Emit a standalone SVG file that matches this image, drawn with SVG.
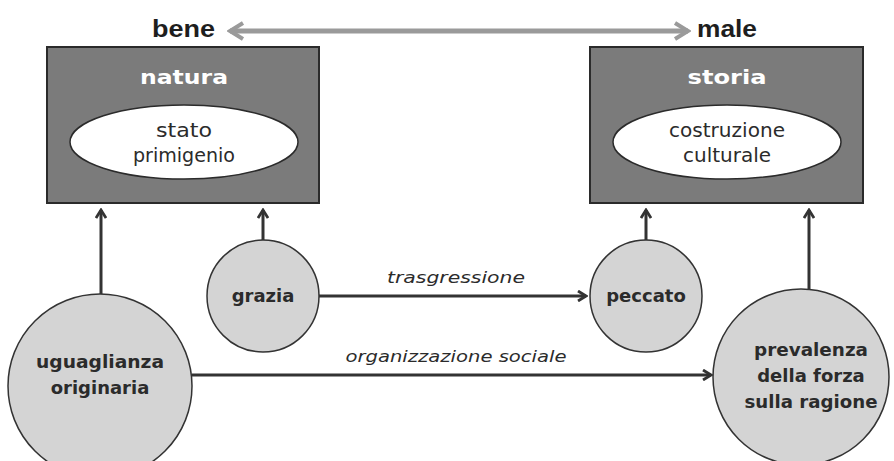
<svg xmlns="http://www.w3.org/2000/svg" width="894" height="461" viewBox="0 0 894 461">
<style>
.box{fill:#7b7b7b;stroke:#2b2b2b;stroke-width:2}
.ell{fill:#ffffff;stroke:#2b2b2b;stroke-width:1.5}
.circ{fill:#d4d4d4;stroke:#333;stroke-width:1.5}
.title{font-family:"DejaVu Sans",sans-serif;font-weight:bold;font-size:20px;fill:#ffffff;text-anchor:middle}
.inner{font-family:"DejaVu Sans",sans-serif;font-size:19px;fill:#2b2b2b;text-anchor:middle}
.node{font-family:"DejaVu Sans",sans-serif;font-weight:bold;font-size:18px;fill:#2b2b2b;text-anchor:middle}
.lab{font-family:"DejaVu Sans",sans-serif;font-style:italic;font-size:16px;fill:#2b2b2b;text-anchor:middle}
.top{font-family:"Liberation Sans",sans-serif;font-weight:bold;font-size:24px;fill:#1e1e1e}
.con{fill:none;stroke:#333;stroke-width:3}
.gray{fill:none;stroke:#9a9a9a;stroke-width:5}
</style>
<defs>
<marker id="ah" viewBox="0 0 12 12" refX="10" refY="6" markerWidth="12" markerHeight="12" markerUnits="userSpaceOnUse" orient="auto">
<path d="M2,1 L10,6 L2,11" fill="none" stroke="#333" stroke-width="2.8"/>
</marker>
<marker id="gh" viewBox="0 0 20 20" refX="17" refY="10" markerWidth="20" markerHeight="20" markerUnits="userSpaceOnUse" orient="auto-start-reverse">
<path d="M4,2 L17,10 L4,18" fill="none" stroke="#9a9a9a" stroke-width="4"/>
</marker>
</defs>
<g id="bene"><text class="top" x="152" y="37" textLength="63" lengthAdjust="spacingAndGlyphs">bene</text></g>
<g id="male"><text class="top" x="697" y="37" textLength="60" lengthAdjust="spacingAndGlyphs">male</text></g>
<g id="natura">
<rect class="box" x="47" y="47" width="272" height="156"/>
<text class="title" x="184" y="84" textLength="88" lengthAdjust="spacingAndGlyphs">natura</text>
<ellipse class="ell" cx="184" cy="142" rx="114" ry="37"/>
<text class="inner" x="184" y="137" textLength="56" lengthAdjust="spacingAndGlyphs">stato</text>
<text class="inner" x="184" y="162" textLength="102" lengthAdjust="spacingAndGlyphs">primigenio</text>
</g>
<g id="storia">
<rect class="box" x="590" y="47" width="273" height="156"/>
<text class="title" x="727" y="84" textLength="79" lengthAdjust="spacingAndGlyphs">storia</text>
<ellipse class="ell" cx="727" cy="142" rx="114" ry="37"/>
<text class="inner" x="727" y="137" textLength="116" lengthAdjust="spacingAndGlyphs">costruzione</text>
<text class="inner" x="727" y="162" textLength="88" lengthAdjust="spacingAndGlyphs">culturale</text>
</g>
<g id="grazia">
<circle class="circ" cx="263" cy="296" r="56"/>
<text class="node" x="263" y="302">grazia</text>
</g>
<g id="peccato">
<circle class="circ" cx="646" cy="296" r="56"/>
<text class="node" x="646" y="302">peccato</text>
</g>
<g id="uguaglianza">
<circle class="circ" cx="100" cy="386" r="92"/>
<text class="node" x="100" y="368" textLength="128" lengthAdjust="spacingAndGlyphs">uguaglianza</text>
<text class="node" x="100" y="394">originaria</text>
</g>
<g id="prevalenza">
<circle class="circ" cx="801" cy="377" r="88"/>
<text class="node" x="811" y="356" textLength="114" lengthAdjust="spacingAndGlyphs">prevalenza</text>
<text class="node" x="811" y="382">della forza</text>
<text class="node" x="811" y="408" textLength="133" lengthAdjust="spacingAndGlyphs">sulla ragione</text>
</g>
<g id="connectors">
<line class="gray" x1="230" y1="31" x2="688" y2="31" marker-start="url(#gh)" marker-end="url(#gh)"/>
<line class="con" x1="101" y1="294" x2="101" y2="210" marker-end="url(#ah)"/>
<line class="con" x1="263" y1="240" x2="263" y2="210" marker-end="url(#ah)"/>
<line class="con" x1="646" y1="240" x2="646" y2="210" marker-end="url(#ah)"/>
<line class="con" x1="809" y1="290" x2="809" y2="210" marker-end="url(#ah)"/>
<line class="con" x1="319" y1="296" x2="586" y2="296" marker-end="url(#ah)"/>
<line class="con" x1="192" y1="375" x2="711" y2="375" marker-end="url(#ah)"/>
<text class="lab" x="456" y="283" textLength="138" lengthAdjust="spacingAndGlyphs">trasgressione</text>
<text class="lab" x="456" y="362" textLength="221" lengthAdjust="spacingAndGlyphs">organizzazione sociale</text>
</g>
</svg>
